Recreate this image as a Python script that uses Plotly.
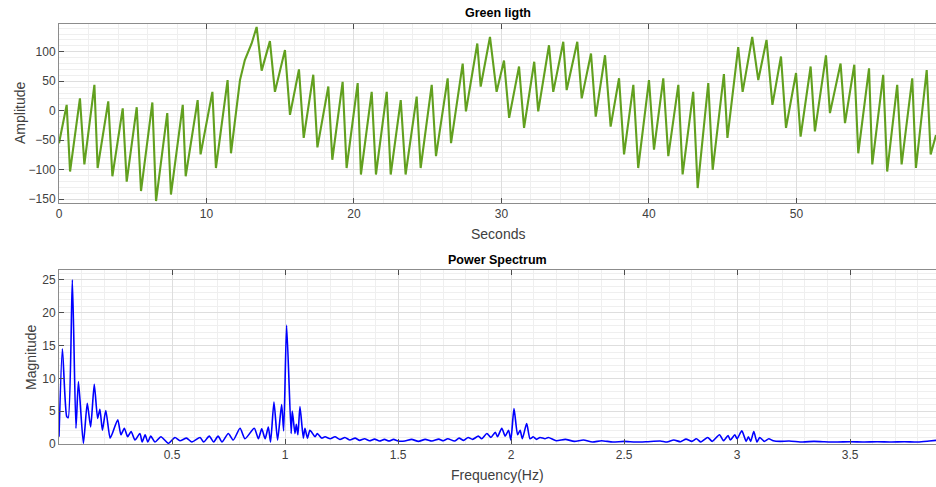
import plotly.graph_objects as go

# ---- Green light signal (peaks / troughs) ----
green_t = [0, 0.52, 0.75, 1.42, 1.72, 2.4, 2.62, 3.34, 3.62, 4.32, 4.59, 5.27, 5.56, 6.33, 6.58,
           7.34, 7.59, 8.39, 8.59, 9.4, 9.6, 10.4, 10.64, 11.43, 11.66, 12.27, 12.6, 13.06, 13.4,
           13.74, 14.3, 14.64, 15.32, 15.66, 16.27, 16.59, 17.24, 17.52, 18.26, 18.53, 19.23, 19.5,
           20.25, 20.47, 21.2, 21.49, 22.22, 22.49, 23.17, 23.5, 24.25, 24.52, 25.27, 25.56, 26.35,
           26.58, 27.37, 27.59, 28.36, 28.59, 29.22, 29.67, 30.17, 30.52, 31.19, 31.53, 32.22,
           32.49, 33.22, 33.51, 34.19, 34.42, 35.14, 35.44, 36.07, 36.39, 37.02, 37.4, 37.97,
           38.31, 38.94, 39.27, 40.0, 40.34, 40.97, 41.31, 41.99, 42.28, 43.0, 43.3, 44.02, 44.32,
           45.08, 45.32, 46.05, 46.35, 47.0, 47.41, 47.97, 48.37, 48.95, 49.29, 49.97, 50.28,
           50.96, 51.25, 52.0, 52.27, 52.99, 53.29, 53.92, 54.19, 54.92, 55.14, 55.88, 56.15,
           56.83, 57.13, 57.85, 58.1, 58.83, 59.1, 59.46]
green_v = [-55, 10, -103, 21, -91, 44, -97, 16, -111, 4, -120, 6, -136, 14, -153,
           -4, -142, 10, -111, 18, -74, 32, -97, 52, -72, 52, 86, 114, 142,
           68, 118, 32, 103, -7, 70, -46, 61, -62, 41, -83, 49, -97,
           47, -108, 32, -108, 32, -108, 18, -108, 24, -97, 44, -77, 55,
           -55, 80, -1, 114, 41, 125, 32, 85, -12, 75, -29, 83,
           -1, 111, 32, 117, 35, 117, 21, 97, -10, 94, -27, 55,
           -74, 44, -97, 52, -66, 55, -77, 44, -108, 32, -131, 47, -100,
           62, -46, 108, 32, 125, 52, 120, 10, 92, -29, 64, -44,
           75, -35, 94, -4, 80, -21, 78, -72, 72, -91, 61, -103,
           44, -91, 55, -97, 69, -74, -41]

# ---- Power spectrum ----
freq = [0.0, 0.015, 0.034, 0.041, 0.059, 0.075, 0.086, 0.108, 0.125, 0.14, 0.156, 0.171, 0.181,
        0.192, 0.207, 0.226, 0.236, 0.26, 0.274, 0.289, 0.304, 0.319, 0.336, 0.358, 0.368, 0.381,
        0.393, 0.406, 0.425, 0.451, 0.484, 0.513, 0.535, 0.564, 0.588, 0.624, 0.64, 0.665, 0.684,
        0.704, 0.721, 0.749, 0.771, 0.801, 0.823, 0.864, 0.882, 0.897, 0.912, 0.926, 0.936, 0.951,
        0.967, 0.985, 0.994, 1.007, 1.027, 1.032, 1.044, 1.05, 1.057, 1.066, 1.081, 1.088, 1.099,
        1.11, 1.118, 1.133, 1.143, 1.162, 1.177, 1.2, 1.221, 1.243, 1.265, 1.287, 1.31, 1.33,
        1.352, 1.374, 1.396, 1.418, 1.44, 1.46, 1.48, 1.5, 1.53, 1.56, 1.59, 1.62, 1.65, 1.68,
        1.7, 1.72, 1.75, 1.77, 1.79, 1.81, 1.83, 1.855, 1.87, 1.893, 1.911, 1.93, 1.94, 1.959,
        1.974, 1.989, 1.999, 2.013, 2.029, 2.04, 2.05, 2.069, 2.084, 2.098, 2.113, 2.128, 2.15,
        2.165, 2.2, 2.24, 2.28, 2.32, 2.36, 2.4, 2.45, 2.5, 2.55, 2.6, 2.66, 2.69, 2.72, 2.75,
        2.774, 2.8, 2.82, 2.84, 2.87, 2.89, 2.922, 2.94, 2.96, 2.97, 2.99, 3.0, 3.021, 3.04, 3.05,
        3.06, 3.074, 3.088, 3.1, 3.12, 3.14, 3.16, 3.19, 3.23, 3.29, 3.34, 3.38, 3.44, 3.5, 3.56,
        3.62, 3.68, 3.74, 3.8, 3.85, 3.88]
mag = [1.1, 14.5, 4.2, 4.0, 25.0, 2.4, 9.5, 0.1, 6.2, 2.6, 9.1, 3.9, 5.3,
       2.1, 5.1, 0.9, 1.6, 3.7, 1.4, 2.4, 1.1, 1.9, 0.6, 1.6, 0.3, 1.4,
       0.3, 1.2, 0.3, 1.1, 0.1, 1.0, 0.5, 0.9, 0.3, 1.0, 0.3, 1.2, 0.3,
       1.2, 0.3, 1.6, 0.6, 2.4, 0.8, 2.4, 0.8, 2.3, 0.8, 2.6, 0.3, 6.4,
       0.6, 6.0, 2.0, 18.1, 1.6, 5.0, 1.6, 3.0, 1.4, 5.7, 0.9, 2.4, 0.9,
       2.1, 1.8, 1.1, 1.6, 0.9, 1.1, 0.8, 1.1, 0.7, 1.0, 0.6, 0.9, 0.55,
       0.8, 0.5, 0.75, 0.45, 0.7, 0.45, 0.7, 0.45, 0.45, 0.7, 0.4, 0.7, 0.45, 0.75,
       0.5, 0.8, 0.45, 0.9, 0.55, 1.0, 0.7, 1.2, 0.8, 1.6, 1.0, 1.8, 1.1, 2.4,
       1.2, 2.1, 0.6, 5.4, 1.4, 2.1, 0.8, 3.1, 0.8, 1.1, 0.7, 1.0, 0.8,
       1.0, 0.5, 0.7, 0.4, 0.6, 0.3, 0.5, 0.3, 0.4, 0.3, 0.35, 0.45, 0.3, 0.6, 0.35,
       0.75, 0.4, 0.8, 0.3, 1.0, 0.4, 1.4, 0.5, 1.3, 0.6, 1.4, 0.8, 2.0, 0.4, 1.1,
       0.4, 1.9, 0.3, 1.0, 0.4, 0.8, 0.5, 0.4, 0.45, 0.3, 0.4, 0.35, 0.3, 0.35, 0.3,
       0.35, 0.3, 0.35, 0.3, 0.45, 0.55]

W, H = 936, 487
FONT = "Liberation Sans, Arial, sans-serif"
GREEN = "#62a01f"
BLUE = "#0000ff"

fig = go.Figure()
fig.add_trace(go.Scatter(x=green_t, y=green_v, mode="lines",
                         line=dict(color=GREEN, width=2.1), xaxis="x", yaxis="y",
                         showlegend=False, hoverinfo="skip"))
fig.add_trace(go.Scatter(x=freq, y=mag, mode="lines",
                         line=dict(color=BLUE, width=1.6, shape="spline", smoothing=0.6),
                         xaxis="x2", yaxis="y2", showlegend=False, hoverinfo="skip"))

axis_common = dict(showline=True, linecolor="#8c8c8c", linewidth=1, ticks="inside",
                   ticklen=5, tickcolor="#4d4d4d", showgrid=True, gridcolor="#dedede",
                   gridwidth=1, zeroline=False, automargin=False,
                   tickfont=dict(family=FONT, size=12, color="#404040"))
minor_common = dict(showgrid=True, gridcolor="#efefef", gridwidth=1, ticks="")

top_dom = [1 - 203 / H, 1 - 24 / H]
bot_dom = [1 - 444 / H, 1 - 270 / H]

fig.update_layout(
    width=W, height=H,
    margin=dict(l=59, r=0, t=0, b=0, autoexpand=False),
    paper_bgcolor="white", plot_bgcolor="white",
    xaxis=dict(axis_common, domain=[0, 1], range=[0, 59.46], tick0=0, dtick=10,
               mirror="ticks", anchor="y", minor=dict(minor_common, dtick=2)),
    yaxis=dict(axis_common, domain=top_dom, range=[-156.3, 147], tick0=0, dtick=50,
               anchor="x", minor=dict(minor_common, dtick=10)),
    xaxis2=dict(axis_common, domain=[0, 1], range=[0, 3.88], tickvals=[0.5, 1, 1.5, 2, 2.5, 3, 3.5],
                ticktext=["0.5", "1", "1.5", "2", "2.5", "3", "3.5"],
                mirror="ticks", anchor="y2", minor=dict(minor_common, dtick=0.1)),
    yaxis2=dict(axis_common, domain=bot_dom, range=[0, 26.5], tick0=0, dtick=5,
                anchor="x2", minor=dict(minor_common, dtick=1)),
    annotations=[
        dict(text="<b>Green ligth</b>", x=0.5, y=13, xref="paper", yref="paper",
             showarrow=False, font=dict(family=FONT, size=12.5, color="black")),
        dict(text="<b>Power Spectrum</b>", x=0.5, y=260, xref="paper", yref="paper",
             showarrow=False, font=dict(family=FONT, size=12.5, color="black")),
        dict(text="Seconds", x=0.5, y=234, xref="paper", yref="paper",
             showarrow=False, font=dict(family=FONT, size=14, color="#404040")),
        dict(text="Frequency(Hz)", x=0.5, y=475, xref="paper", yref="paper",
             showarrow=False, font=dict(family=FONT, size=14, color="#404040")),
        dict(text="Amplitude", x=20, y=113, xref="paper", yref="paper", textangle=-90,
             showarrow=False, font=dict(family=FONT, size=14, color="#404040")),
        dict(text="Magnitude", x=31, y=357, xref="paper", yref="paper", textangle=-90,
             showarrow=False, font=dict(family=FONT, size=14, color="#404040")),
    ],
)

# convert pixel positions of annotations into paper coordinates
plot_w = W - 59
for a in fig.layout.annotations:
    if a.x > 1:
        a.x = (a.x - 59) / plot_w
        a.xanchor = "center"
    a.y = 1 - a.y / H
    a.yanchor = "middle"

fig.write_html("out.html", config={"displayModeBar": False},
               post_script="document.body.style.margin='0';document.body.style.overflow='hidden';")
